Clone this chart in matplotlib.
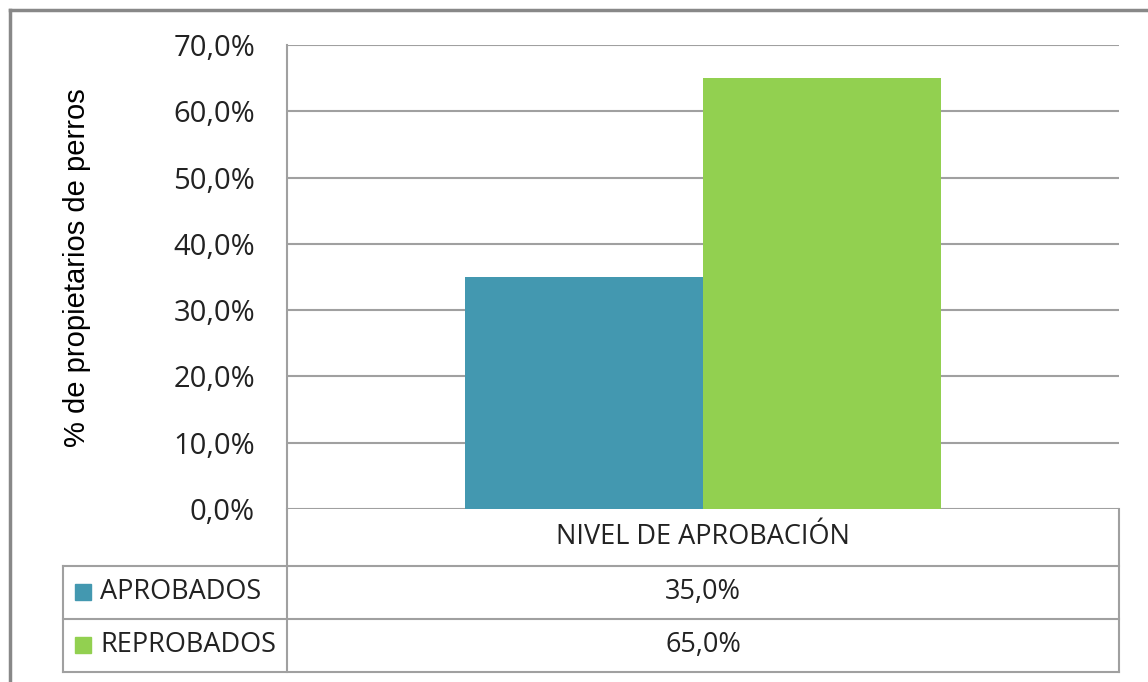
import matplotlib.pyplot as plt
import matplotlib.patches as mpatches

# data
category = 'NIVEL DE APROBACIÓN'
series = ['APROBADOS', 'REPROBADOS']
values = [35.0, 65.0]
colors = ['#4398B0', '#92D050']
yticks = [0, 10, 20, 30, 40, 50, 60, 70]

W, H = 1148, 682
fig = plt.figure(figsize=(W / 100, H / 100), dpi=100)

grid_c = '#A0A0A0'
txt_font = 'Open Sans'
txt_c = '#222222'

def rect(l, t, r, b):
    return [l / W, 1 - b / H, (r - l) / W, (b - t) / H]

# plot area
ax = fig.add_axes(rect(287, 45, 1119, 509))
bw = 0.286
for i, (name, v) in enumerate(zip(series, values)):
    ax.bar((i - 0.5) * bw, v, width=bw, color=colors[i], zorder=3)
ax.set_xlim(-0.5, 0.5)
ax.set_ylim(0, 70)
ax.set_yticks(yticks)
ax.set_yticklabels([f'{t:.1f}%'.replace('.', ',') for t in yticks],
                   fontsize=21, family=txt_font, color=txt_c)
ax.set_xticks([])
ax.tick_params(axis='y', length=0, pad=23)
ax.yaxis.grid(True, color=grid_c, lw=1.5, zorder=0)
for s in ['top', 'right', 'bottom']:
    ax.spines[s].set_visible(False)
ax.spines['left'].set_color(grid_c)
ax.spines['left'].set_linewidth(1.5)

# overlay in pixel coordinates for data table and frame
ov = fig.add_axes([0, 0, 1, 1], zorder=5)
ov.set_xlim(0, W)
ov.set_ylim(H, 0)
ov.axis('off')
ov.patch.set_alpha(0)

lw = 1.5
ov.plot([287, 287], [509, 672], color=grid_c, lw=lw)
ov.plot([1119, 1119], [509, 672], color=grid_c, lw=lw)
ov.plot([63, 1119], [566, 566], color=grid_c, lw=lw)
ov.plot([63, 1119], [619, 619], color=grid_c, lw=lw)
ov.plot([63, 1119], [672, 672], color=grid_c, lw=lw)
ov.plot([63, 63], [566, 672], color=grid_c, lw=lw)
ov.text(703, 537, category, ha='center', va='center', fontsize=19.5,
        family=txt_font, color=txt_c)

row_y = [592, 645]
for i, (name, v) in enumerate(zip(series, values)):
    y = row_y[i]
    ov.add_patch(mpatches.Rectangle((75, y - 8), 16, 16, color=colors[i]))
    ov.text(100, y, name, ha='left', va='center', fontsize=19.5,
            family=txt_font, color=txt_c)
    ov.text(703, y, f'{v:.1f}%'.replace('.', ','), ha='center', va='center',
            fontsize=19.5, family=txt_font, color=txt_c)

# y label
ov.text(77, 268, '% de propietarios de perros', rotation=90, ha='center',
        va='center', fontsize=21, family='Liberation Sans', color='black')

# outer frame
ov.plot([9.5, 9.5], [9.5, H], color='#888888', lw=2.5)
ov.plot([9.5, W], [9.5, 9.5], color='#888888', lw=2.5)

fig.savefig('out.png', dpi=100)
